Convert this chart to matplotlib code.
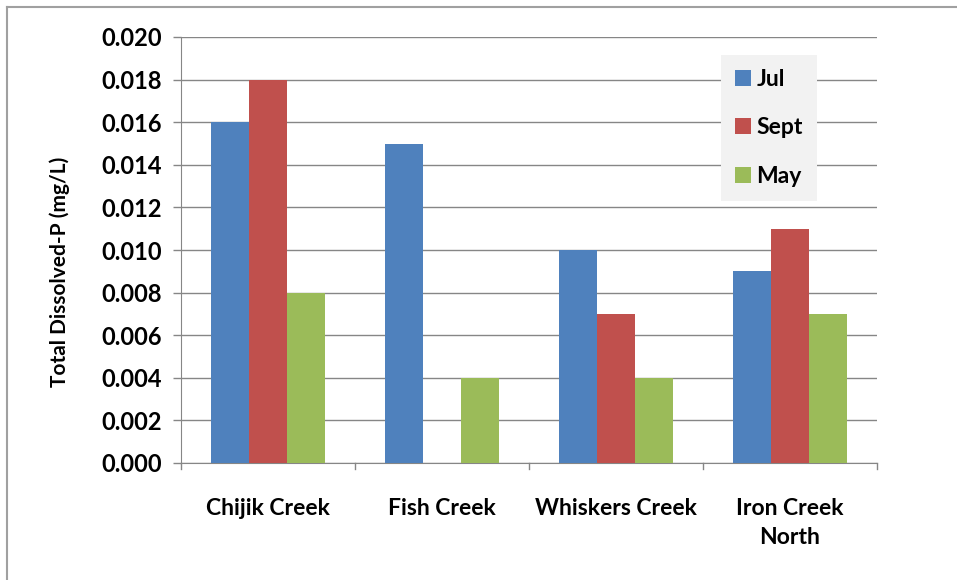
import numpy as np
import matplotlib.pyplot as plt
from matplotlib.lines import Line2D

sites = ['Chijik Creek', 'Fish Creek', 'Whiskers Creek', 'Iron Creek\nNorth']
months = ['Jul', 'Sept', 'May']
jul = [0.016, 0.015, 0.010, 0.009]
sept = [0.018, 0.0, 0.007, 0.011]
may = [0.008, 0.004, 0.004, 0.007]
y_ticks = [0.000, 0.002, 0.004, 0.006, 0.008, 0.010, 0.012, 0.014, 0.016, 0.018, 0.020]

colors = ['#4f81bd', '#c0504d', '#9bbb59']

plt.rcParams['font.family'] = ['Lato', 'DejaVu Sans']
plt.rcParams['font.weight'] = 'bold'
plt.rcParams['axes.labelweight'] = 'bold'

fig = plt.figure(figsize=(9.57, 5.8), dpi=100)
ax = fig.add_axes([181 / 957, 1 - 463 / 580, (877 - 181) / 957, (463 - 37) / 580])

x = np.arange(len(sites))
width = 38 / 174
for i, (vals, c, name) in enumerate(zip([jul, sept, may], colors, months)):
    ax.bar(x + (i - 1) * width, vals, width, color=c, label=name, zorder=3)

ax.set_xlim(-0.5, len(sites) - 0.5)
ax.set_ylim(0, 0.020)
ax.set_yticks(y_ticks)
ax.set_yticklabels([f'{v:.3f}' for v in y_ticks], fontsize=17)
ax.set_xticks(x)
ax.set_xticklabels(sites, fontsize=16.5, linespacing=1.5)
ax.tick_params(axis='x', length=0, pad=25)
ax.tick_params(axis='y', length=6, width=1, color='#868686', direction='out', pad=8)

# category separators below the axis
for b in np.arange(-0.5, len(sites), 1.0):
    ax.plot([b, b], [0, -0.00028], color='#868686', lw=1, clip_on=False)

ax.grid(axis='y', color='#868686', lw=1, zorder=0)
for s in ['top', 'right']:
    ax.spines[s].set_visible(False)
for s in ['left', 'bottom']:
    ax.spines[s].set_color('#868686')

ax.set_ylabel('Total Dissolved-P (mg/L)', fontsize=15)
ax.yaxis.set_label_coords((70 - 181) / 696, (463 - 272) / 426)

leg = ax.legend(loc='upper left', bbox_to_anchor=((721 - 181) / 696, (463 - 55) / 426),
                fontsize=16.5, frameon=True, fancybox=False, handlelength=0.7,
                handleheight=0.7, handletextpad=0.25, labelspacing=1.2,
                borderpad=0.6, borderaxespad=0)
leg.get_frame().set_facecolor('#f2f2f2')
leg.get_frame().set_edgecolor('none')
leg.get_frame().set_alpha(1)

# outer chart frame (left and top edges)
fig.add_artist(Line2D([7 / 957, 7 / 957], [0, 1 - 7 / 580], color='#a0a0a0', lw=1.5))
fig.add_artist(Line2D([7 / 957, 1], [1 - 7 / 580, 1 - 7 / 580], color='#a0a0a0', lw=1.5))

fig.savefig('out.png', dpi=100)
